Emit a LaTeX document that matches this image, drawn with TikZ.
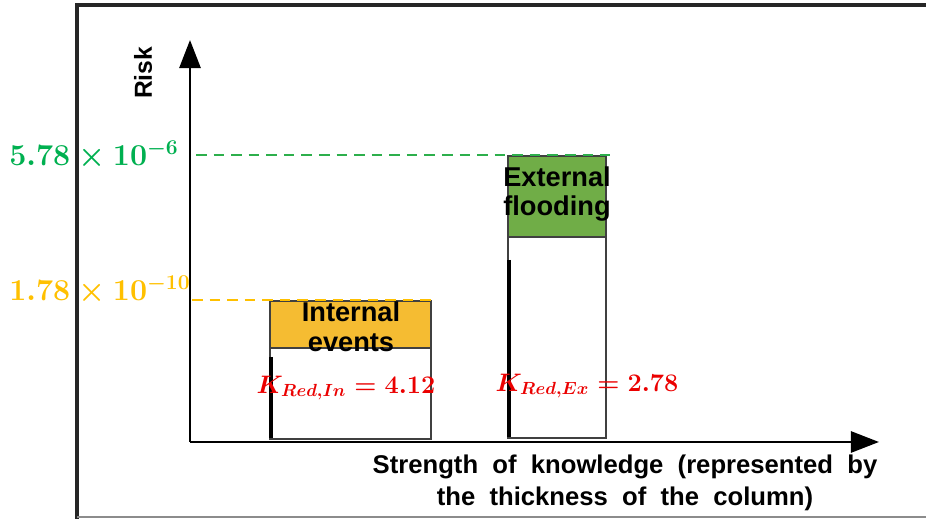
\documentclass[tikz,border=0pt]{standalone}
\usepackage{fontspec}
\setmainfont{Liberation Sans}
\usetikzlibrary{arrows.meta}
\definecolor{riskgreen}{RGB}{0,176,80}
\definecolor{riskyellow}{RGB}{255,192,0}
\definecolor{barorange}{RGB}{245,188,50}
\definecolor{bargreen}{RGB}{112,173,71}
\definecolor{kred}{RGB}{235,0,0}
\tikzset{
  axis/.style = {line width = 1.5pt, -{Triangle[width = 12pt, length = 16pt]}},
  level/.style = {dashed, line width = 1pt, dash pattern = on 6pt off 4pt},
  column/.style = {draw = black!75, line width = 1pt},
  barlabel/.style = {font = \fontsize{15.5}{17}\selectfont\bfseries, align = center, inner sep = 0pt},
  valuelabel/.style = {font = \fontsize{16.5}{18}\selectfont\boldmath, inner sep = 0pt},
  kvalue/.style = {text = kred, font = \fontsize{14.8}{16}\selectfont\boldmath, inner sep = 0pt}
}
\begin{document}
\begin{tikzpicture}[x = 0.02cm, y = -0.02cm]
\useasboundingbox (0,0) rectangle (926,519);
% frame
\draw[line width = 2pt, black!85] (926,5) -- (77,5) -- (77,519);
\draw[line width = 1pt, black!45] (77,517) -- (926,517);
% axes
\coordinate (o) at (190,442);
\coordinate (ytip) at (190,40);
\coordinate (xtip) at (879,442);
\draw[axis] (o) -- (ytip);
\draw[axis] (o) -- (xtip);
\node[rotate = 90, font = \fontsize{14}{16}\selectfont\bfseries] (risk) at (143,73) {Risk};
\node[font = \fontsize{14.6}{16}\selectfont\bfseries, align = center, inner sep = 0pt] (xlabel) at (625,483)
  {Strength\ \ of\ \ knowledge\ \ (represented\ \ by\\[2pt] the\ \ thickness\ \ of\ \ the\ \ column)};
% columns
\draw[column, fill = white] (270,301) rectangle (431,439);
\draw[column, fill = barorange] (270,301) rectangle (431,348);
\draw[column, fill = white] (508,156) rectangle (606,438);
\draw[column, fill = bargreen] (508,156) rectangle (606,237);
\draw[line width = 2pt] (271,357) -- (271,438);
\draw[line width = 2pt] (509,260) -- (509,437);
\node[barlabel] (inlabel) at (351,327) {Internal\\events};
\node[barlabel] (exlabel) at (557,194) {External\\flooding};
% levels
\coordinate (gl) at (196,155);
\coordinate (gr) at (610,155);
\coordinate (yl) at (192,300);
\coordinate (yr) at (432,300);
\draw[level, draw = riskgreen!60!bargreen] (gl) -- (gr);
\draw[level, draw = riskyellow] (yl) -- (yr);
\node[valuelabel, text = riskgreen, anchor = west] (top) at (9,155) {$5.78\times10^{-6}$};
\node[valuelabel, text = riskyellow, anchor = west] (low) at (9,290) {$1.78\times10^{-10}$};
\node[kvalue] (kin) at (346,388) {$K_{Red,In}=4.12$};
\node[kvalue] (kex) at (587,386) {$K_{Red,Ex}=2.78$};
\end{tikzpicture}
\end{document}
